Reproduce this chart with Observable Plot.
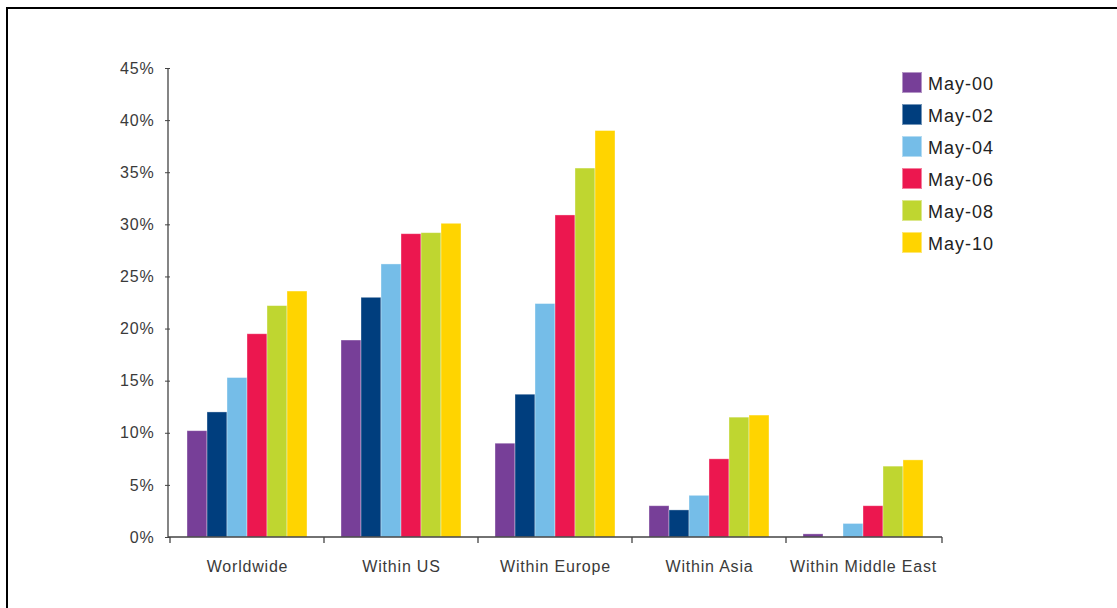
<!DOCTYPE html>
<html>
<head>
<meta charset="utf-8">
<script src="https://cdn.jsdelivr.net/npm/d3@7"></script>
<script src="https://cdn.jsdelivr.net/npm/@observablehq/plot@0.6"></script>
<style>
  html, body { margin: 0; padding: 0; background: #fff; }
  #wrap { position: relative; width: 1117px; height: 608px; overflow: hidden; background: #fff; }
  #frame { position: absolute; left: 6px; top: 7px; right: -20px; bottom: -20px;
           border-left: 2px solid #000; border-top: 2px solid #000; pointer-events: none; }
  #chart { position: absolute; left: 0; top: 0; }
  #legend { position: absolute; left: 902px; top: 66px;
            font-family: "Liberation Sans", Arial, Helvetica, sans-serif; font-size: 18px; color: #222; }
  .row { display: flex; align-items: center; height: 32px; }
  .sw { width: 20px; height: 21px; box-sizing: border-box; border: 1px solid rgba(255,255,255,0.45); margin-right: 6px; }
  .lab { position: relative; top: 2px; letter-spacing: 1px; }
</style>
</head>
<body>
<div id="wrap">
  <div id="frame"></div>
  <div id="chart"></div>
  <div id="legend"></div>
</div>
<script>
// Categories along the horizontal axis
const categories = ["Worldwide", "Within US", "Within Europe", "Within Asia", "Within Middle East"];
// Survey dates (one bar per date in every group)
const periods = ["May-00", "May-02", "May-04", "May-06", "May-08", "May-10"];
const colors = ["#773f98", "#003e7e", "#75bde8", "#ec174f", "#bfd630", "#ffd400"];

// Share per category, in percent
const may00 = [10.2, 18.9, 9.0, 3.0, 0.3];
const may02 = [12.0, 23.0, 13.7, 2.6, 0.0];
const may04 = [15.3, 26.2, 22.4, 4.0, 1.3];
const may06 = [19.5, 29.1, 30.9, 7.5, 3.0];
const may08 = [22.2, 29.2, 35.4, 11.5, 6.8];
const may10 = [23.6, 30.1, 39.0, 11.7, 7.4];

const yTicks = [0, 5, 10, 15, 20, 25, 30, 35, 40, 45];

const seriesValues = [may00, may02, may04, may06, may08, may10];
const rows = [];
categories.forEach((cat, ci) => {
  periods.forEach((p, pi) => rows.push({category: cat, period: p, value: seriesValues[pi][ci]}));
});

const chart = Plot.plot({
  width: 1117,
  height: 608,
  marginLeft: 168,
  marginRight: 175,
  marginTop: 68,
  marginBottom: 71,
  style: {
    fontFamily: "'Liberation Sans', Arial, Helvetica, sans-serif",
    fontSize: "16px",
    color: "#3a3a3a",
    letterSpacing: "0.8px",
    background: "transparent",
    overflow: "visible"
  },
  fx: {domain: categories, paddingInner: 0, paddingOuter: 0},
  x: {domain: periods, paddingInner: 0, paddingOuter: 0.7, axis: null},
  y: {domain: [0, 45]},
  color: {domain: periods, range: colors},
  marks: [
    Plot.barY(rows, {
      fx: "category",
      x: "period",
      y: "value",
      fill: "period",
      stroke: "white",
      strokeOpacity: 0.45,
      strokeWidth: 0.8
    }),
    Plot.axisY({
      ticks: yTicks,
      tickFormat: d => d + "%",
      tickSize: 5,
      tickPadding: 11,
      label: null,
      stroke: "#444"
    }),
    Plot.axisFx({
      anchor: "bottom",
      tickSize: 0,
      tickPadding: 23,
      label: null
    })
  ]
});

// Axis lines and group boundary ticks, positioned with the chart's own scales
const fx = chart.scale("fx");
const y = chart.scale("y");
const xLeft = fx.range[0], xRight = fx.range[1];
const yBottom = y.range[0], yTop = y.range[1];
const g = d3.select(chart).append("g")
  .attr("fill", "none")
  .attr("stroke", "#444")
  .attr("stroke-width", 1.3);
g.append("path").attr("d", `M${xLeft},${yTop}V${yBottom}H${xRight}`);
const bounds = categories.map(c => fx.apply(c)).concat([xRight]);
g.selectAll("line.bound").data(bounds).join("line")
  .attr("class", "bound")
  .attr("x1", d => d).attr("x2", d => d)
  .attr("y1", yBottom).attr("y2", yBottom + 6);

document.getElementById("chart").appendChild(chart);

// Legend: one swatch per survey date
const legend = d3.select("#legend");
periods.forEach((p, i) => {
  const row = legend.append("div").attr("class", "row");
  row.append("div").attr("class", "sw").style("background", colors[i]);
  row.append("span").attr("class", "lab").text(p);
});
</script>
</body>
</html>
